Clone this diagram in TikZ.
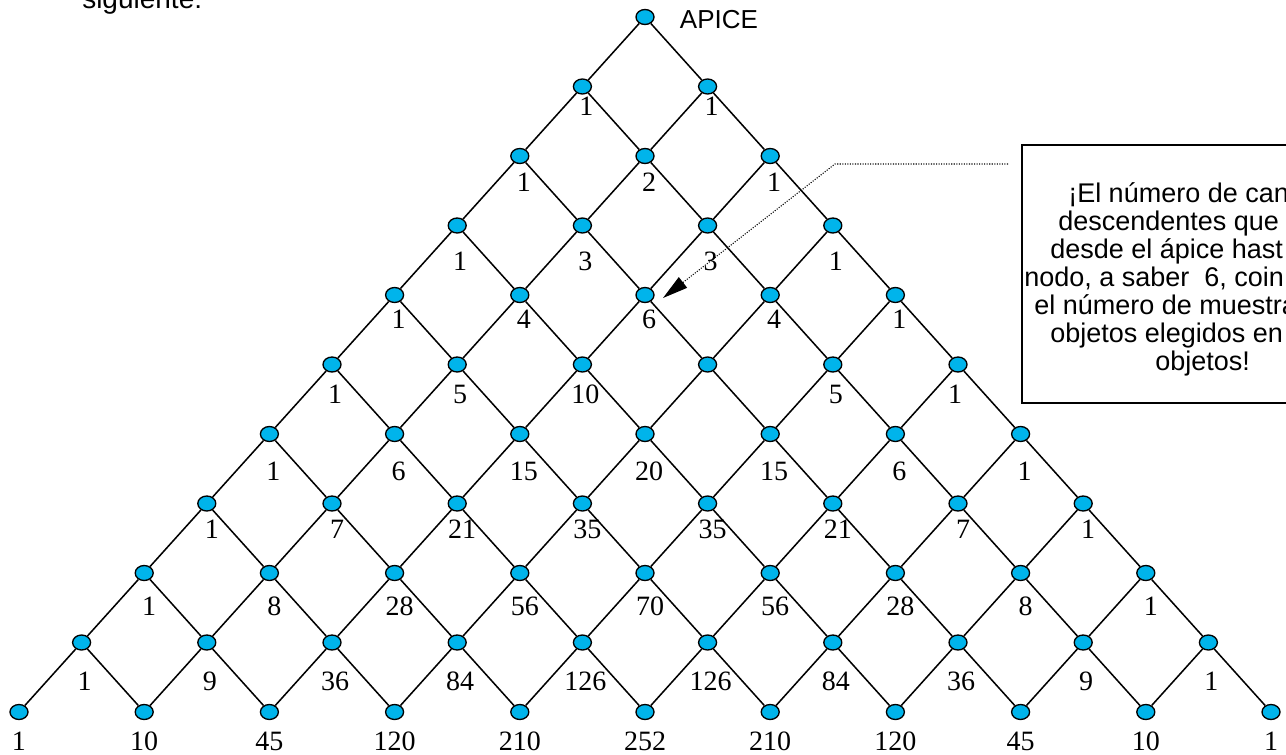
\documentclass[tikz,border=0pt]{standalone}
\usepackage{fontspec}
\setmainfont{Liberation Serif}
\newfontfamily\arialf{Liberation Sans}
\usetikzlibrary{shapes.geometric,arrows.meta,calc}
\definecolor{nodecyan}{RGB}{0,180,235}
\begin{document}
\begin{tikzpicture}[x=0.75pt,y=-0.75pt,
  latnode/.style={ellipse,draw=black,line width=1pt,fill=nodecyan,minimum width=13.5pt,minimum height=11.25pt,inner sep=0pt},
  link/.style={line width=1.15pt,black},
  numlabel/.style={font=\fontsize{21}{21}\selectfont,inner sep=0pt},
  sanstext/.style={font=\arialf\fontsize{19.5}{22}\selectfont,inner sep=0pt},
  boxline/.style={anchor=base west,font=\arialf\fontsize{20.25}{24}\selectfont,inner sep=0pt},
  pointer/.style={line width=0.8pt,dash pattern=on 0.8pt off 1.1pt,-{Triangle[length=19pt,width=10pt]}}
]
\useasboundingbox (0,0) rectangle (1286,754);
\clip (0,0) rectangle (1286,754);

% lattice nodes
\foreach \r in {0,...,10}{
  \foreach \k in {0,...,\r}{
    \pgfmathsetmacro\xx{645+(2*\k-\r)*62.6}
    \pgfmathsetmacro\yy{17+\r*69.5}
    \node[latnode] (n-\r-\k) at (\xx,\yy) {};
  }
}
% connectors
\foreach \r in {0,...,9}{
  \pgfmathtruncatemacro\rr{\r+1}
  \foreach \k in {0,...,\r}{
    \pgfmathtruncatemacro\kp{\k+1}
    \draw[link] (n-\r-\k) -- (n-\rr-\k);
    \draw[link] (n-\r-\k) -- (n-\rr-\kp);
  }
}
% labels
\foreach \r/\dx/\dy/\vals in {
  1/4/20/{1,1},
  2/4/26/{1,2,1},
  3/3/36/{1,3,3,1},
  4/4/24/{1,4,6,4,1},
  6/4/37/{1,6,15,20,15,6,1},
  7/5/26/{1,7,21,35,35,21,7,1},
  8/5/33/{1,8,28,56,70,56,28,8,1},
  9/3/39/{1,9,36,84,126,126,84,36,9,1},
  10/0/29/{1,10,45,120,210,252,210,120,45,10,1}}{
  \foreach \v [count=\c] in \vals {
    \pgfmathtruncatemacro\k{\c-1}
    \node[numlabel] (l-\r-\k) at ($(n-\r-\k)+(\dx,\dy)$) {\v};
  }
}
% row 5 (the reference shows no label under its fourth node)
\node[numlabel] (l-5-0) at ($(n-5-0)+(3,30)$) {1};
\node[numlabel] (l-5-1) at ($(n-5-1)+(3,30)$) {5};
\node[numlabel] (l-5-2) at ($(n-5-2)+(3,30)$) {10};
\node[numlabel] (l-5-4) at ($(n-5-4)+(3,30)$) {5};
\node[numlabel] (l-5-5) at ($(n-5-5)+(-3,30)$) {1};

% texts
\node[sanstext] (apice) at (719,20) {APICE};
\node[anchor=base west,font=\arialf\fontsize{21}{24}\selectfont,inner sep=0pt] (sig) at (82,8) {siguiente:};

% callout box
\node[draw=black,line width=1.2pt,anchor=north west,inner sep=0pt,minimum width=209pt,minimum height=193.5pt] (callout) at (1021,144) {};
\node[boxline] (t1) at (1068,202) {¡El número de can};
\node[boxline] (t2) at (1058,230) {descendentes que};
\node[boxline] (t3) at (1050,258) {desde el ápice hast};
\node[boxline] (t4) at (1024,286) {nodo, a saber\ \ 6, coin};
\node[boxline] (t5) at (1034,314) {el número de muestra};
\node[boxline] (t6) at (1050,342) {objetos elegidos en};
\node[boxline] (t7) at (1155,370) {objetos!};

% pointer
\coordinate (cs) at (1008,164);
\coordinate (cb) at (835,164);
\coordinate (ctip) at (663,298);
\draw[pointer] (cs) -- (cb) -- (ctip);
\end{tikzpicture}
\end{document}
